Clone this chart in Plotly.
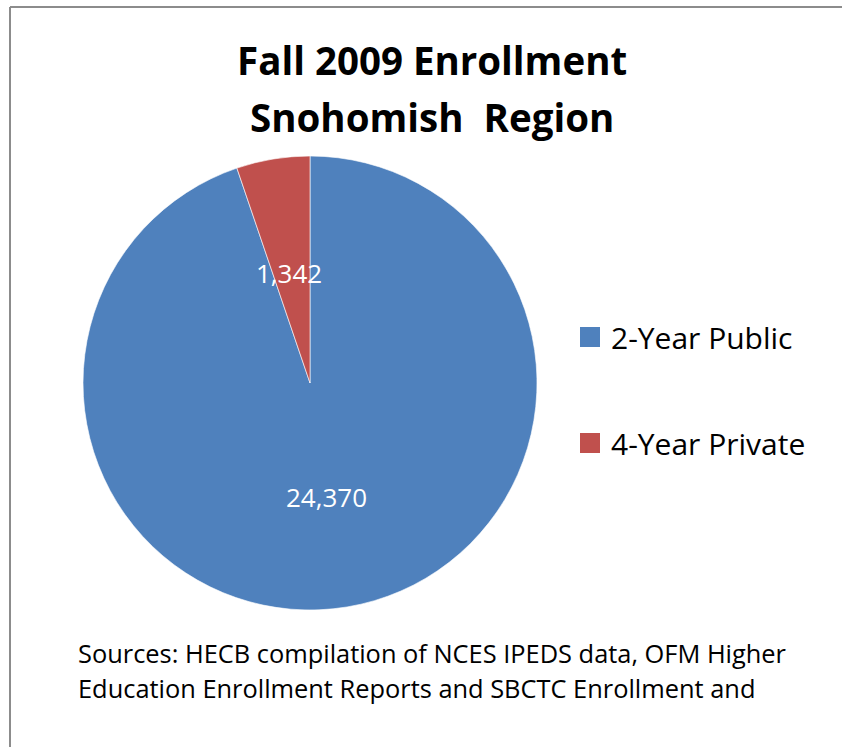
import math
import plotly.graph_objects as go

# Fall 2009 enrollment by sector, Snohomish region
categories = ["2-Year Public", "4-Year Private"]
enrollment = [24370, 1342]
colors = ["#4F81BD", "#C0504D"]

title_lines = ["Fall 2009 Enrollment", "Snohomish  Region"]
source_lines = [
    "Sources: HECB compilation of NCES IPEDS data, OFM Higher",
    "Education Enrollment Reports and SBCTC Enrollment and",
]

W, H = 842, 747
FONT = "'Open Sans', Lato, sans-serif"

# pie placement in pixels
cx, cy, R = 310, 383, 227
dom_x = [(cx - R) / W, (cx + R) / W]
dom_y = [1 - (cy + R) / H, 1 - (cy - R) / H]

fig = go.Figure(
    go.Pie(
        labels=categories,
        values=enrollment,
        marker=dict(colors=colors, line=dict(color="rgba(255,255,255,0.6)", width=1)),
        sort=False,
        direction="clockwise",
        rotation=0,
        textinfo="none",
        hoverinfo="label+value",
        showlegend=False,
        domain=dict(x=dom_x, y=dom_y),
    )
)

annotations = []
shapes = []


def px_x(x):
    return x / W


def px_y(y):
    return 1 - y / H


# value labels placed along each slice's mid-angle
total = sum(enrollment)
start = 0.0
for v in enrollment:
    frac = v / total
    mid = (start + frac / 2) * 2 * math.pi
    start += frac
    r = 0.5 * R
    lx = cx + r * math.sin(mid) - 2
    ly = cy - r * math.cos(mid) + 2
    annotations.append(dict(
        x=px_x(lx), y=px_y(ly), xref="paper", yref="paper",
        xanchor="center", yanchor="middle",
        text=f"{v:,}", showarrow=False,
        font=dict(family=FONT, size=26, color="white"),
    ))

# title
for i, line in enumerate(title_lines):
    annotations.append(dict(
        x=px_x(432), y=px_y(60 + 57 * i), xref="paper", yref="paper",
        xanchor="center", yanchor="middle",
        text=f"<b>{line}</b>", showarrow=False,
        font=dict(family=FONT, size=38.5, color="black"),
    ))

# legend
for i, (name, col) in enumerate(zip(categories, colors)):
    ly = 337 + 106 * i
    shapes.append(dict(
        type="rect", xref="paper", yref="paper",
        x0=px_x(580), x1=px_x(600), y0=px_y(ly + 10), y1=px_y(ly - 10),
        fillcolor=col, line=dict(width=0),
    ))
    annotations.append(dict(
        x=px_x(609), y=px_y(ly), xref="paper", yref="paper",
        xanchor="left", yanchor="middle", text=name, showarrow=False,
        font=dict(family=FONT, size=30, color="black"),
    ))

# source note
for i, line in enumerate(source_lines):
    annotations.append(dict(
        x=px_x(76), y=px_y(653 + 35 * i), xref="paper", yref="paper",
        xanchor="left", yanchor="middle", text=line, showarrow=False,
        font=dict(family=FONT, size=25.4, color="black"),
    ))

# chart frame (top and left edges fall inside the page)
frame = dict(color="#8C8C8C", width=2)
shapes.append(dict(type="line", xref="paper", yref="paper",
                   x0=px_x(10), x1=1, y0=px_y(7), y1=px_y(7), line=frame))
shapes.append(dict(type="line", xref="paper", yref="paper",
                   x0=px_x(10), x1=px_x(10), y0=0, y1=px_y(7), line=frame))

fig.update_layout(
    width=W, height=H,
    margin=dict(l=0, r=0, t=0, b=0),
    paper_bgcolor="white",
    plot_bgcolor="white",
    annotations=annotations,
    shapes=shapes,
)

fig.write_html("out.html")
